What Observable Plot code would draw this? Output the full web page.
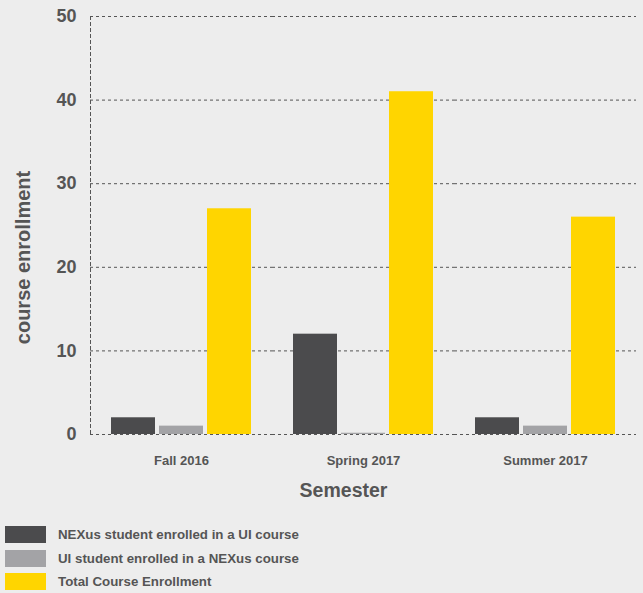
<!DOCTYPE html>
<html><head><meta charset="utf-8">
<script src="https://cdn.jsdelivr.net/npm/d3@7"></script>
<script src="https://cdn.jsdelivr.net/npm/@observablehq/plot@0.6"></script>
<style>
body{margin:0;background:#ededed;font-family:"Liberation Sans",Arial,sans-serif;}
#chart svg{background:#ededed;}
.legend{margin-top:18px;}
.legend .item{display:flex;align-items:center;height:23.5px;font-size:13.3px;font-weight:bold;color:#555;}
.legend .sw{width:41px;height:17px;margin-left:5px;margin-right:12px;}
</style></head>
<body>
<div id="chart"></div>
<div class="legend" id="legend"></div>
<script>
const semesters = ["Fall 2016", "Spring 2017", "Summer 2017"];
const seriesNames = ["NEXus student enrolled in a UI course", "UI student enrolled in a NEXus course", "Total Course Enrollment"];
const nexusInUI = [2, 12, 2];
const uiInNexus = [1, 0.15, 1];
const totalEnrollment = [27, 41, 26];
const colors = ["#4b4b4d", "#a3a3a6", "#ffd500"];
const yTicks = [0, 10, 20, 30, 40, 50];
const yTitle = "course enrollment";
const xTitle = "Semester";

const seriesValues = [nexusInUI, uiInNexus, totalEnrollment];
const data = [];
semesters.forEach((s, i) => seriesNames.forEach((n, j) => data.push({semester: s, series: n, value: seriesValues[j][i]})));

const chart = Plot.plot({
  width: 643,
  height: 505,
  marginLeft: 89,
  marginRight: 7,
  marginTop: 16,
  marginBottom: 71,
  style: {background: "#ededed", fontFamily: "Liberation Sans, Arial, sans-serif", color: "#555"},
  fx: {domain: semesters, padding: 0, label: null},
  x: {domain: seriesNames, paddingInner: 0.082, paddingOuter: 0.4, axis: null},
  y: {domain: [0, 50], label: null},
  color: {domain: seriesNames, range: colors},
  marks: [
    Plot.gridY(yTicks, {stroke: "#555", strokeOpacity: 1, strokeDasharray: "3,3", strokeWidth: 1}),
    Plot.frame({anchor: "left", stroke: "#555", strokeDasharray: "3,3", facetAnchor: "left"}),
    Plot.barY(data, {fx: "semester", x: "series", y: "value", fill: "series"}),
    Plot.axisY(yTicks, {tickSize: 0, tickPadding: 14, fontSize: 18, fontWeight: "bold", fill: "#555", label: null}),
    Plot.axisFx({anchor: "bottom", tickSize: 0, tickPadding: 21, fontSize: 13, fontWeight: "bold", fill: "#555", label: null}),
    Plot.text([yTitle], {frameAnchor: "left", textAnchor: "middle", rotate: -90, dx: -67, dy: 32, fontSize: 20, fontWeight: "bold", fill: "#555", facetAnchor: "left", text: d => d}),
    Plot.text([xTitle], {frameAnchor: "bottom", facet: "super", dx: -20, dy: 56, lineAnchor: "middle", fontSize: 19.5, fontWeight: "bold", fill: "#555", text: d => d})
  ]
});
document.getElementById("chart").appendChild(chart);

const leg = document.getElementById("legend");
seriesNames.forEach((n, i) => {
  const it = document.createElement("div"); it.className = "item";
  const sw = document.createElement("div"); sw.className = "sw"; sw.style.background = colors[i];
  const t = document.createElement("span"); t.textContent = n;
  it.appendChild(sw); it.appendChild(t); leg.appendChild(it);
});
</script>
</body></html>
